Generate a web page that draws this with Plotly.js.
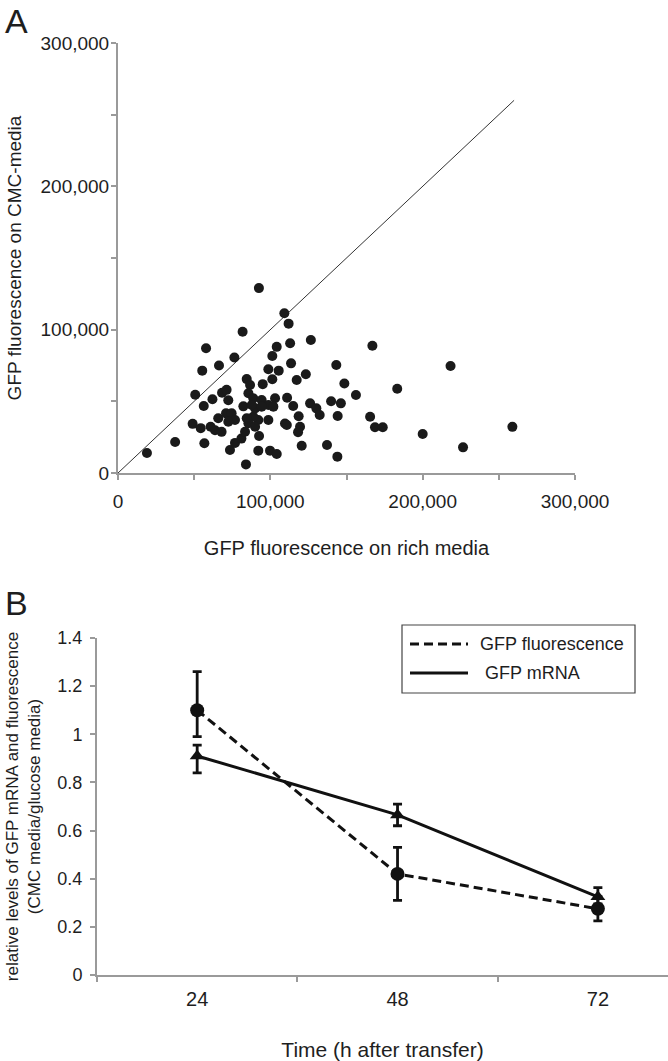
<!DOCTYPE html>
<html>
<head>
<meta charset="utf-8">
<script src="https://cdn.plot.ly/plotly-3.0.1.min.js"></script>
<style>
html,body{margin:0;padding:0;background:#fff;}
#chart{width:668px;height:1061px;}
</style>
</head>
<body>
<div id="chart"></div>
<script>
// ---------- Panel A data (GFP fluorescence) ----------
const richMedia = [19000,37500,56700,49000,54300,60800,63700,68000,65800,50700,56300,62000,68300,71300,72400,55300,66300,57800,76400,81800,70900,74600,76800,72400,73500,76800,81000,82300,84500,84000,92500,109200,112000,126600,113000,104200,101300,113600,143300,98700,105500,101300,86700,95000,117300,123300,148600,156200,85600,88800,94300,103100,111000,98700,115000,126100,130200,132400,139900,146300,144200,118600,109600,119500,118200,98700,92100,88800,85600,92600,83400,92100,99800,104200,120600,137200,144000,167000,218300,183300,165500,168700,173800,200000,226500,258900,110800,90000,94300,84500,90000,102000,87800];
const cmcMedia  = [14000,21600,20700,34300,31300,32300,29800,28700,38200,54600,46700,51400,56000,58000,50800,71400,75000,87000,80600,98600,41600,41600,37000,35800,16000,21000,24000,46500,65500,6000,129000,111400,104200,92800,90500,88000,81600,76500,75400,72400,71400,65400,61400,62000,64900,68900,62400,54400,55600,52100,50900,52100,52500,47500,46700,48600,45100,40500,50000,48600,39800,39600,34500,32300,28500,37000,37000,39300,34700,25800,28800,15600,15600,13300,19000,19500,11400,88800,74700,58800,39300,31900,31900,27200,17900,32200,33500,45100,46300,38200,32300,46300,47500];
const identityX = [0, 260000];
const identityY = [0, 260000];
const aTickVals = [0,50000,100000,150000,200000,250000,300000];
const aTickText = ['0','','100,000','','200,000','','300,000'];

// ---------- Panel B data ----------
const timeCats = ['24','48','72'];
const fluorMean = [1.10, 0.42, 0.275];
const fluorErrPlus = [0.16, 0.11, 0.05];
const fluorErrMinus = [0.11, 0.11, 0.05];
const mrnaMean = [0.91, 0.665, 0.325];
const mrnaErrPlus = [0.045, 0.045, 0.038];
const mrnaErrMinus = [0.07, 0.045, 0.03];
const bTickVals = [0,0.2,0.4,0.6,0.8,1,1.2,1.4];
const bTickText = ['0','0.2','0.4','0.6','0.8','1','1.2','1.4'];
const legendNames = ['GFP fluorescence', ' GFP mRNA'];

const W = 668, H = 1061;
const px = v => v / W;
const py = v => 1 - v / H;
const FONT = 'Liberation Sans, Arial, Helvetica, sans-serif';
const AX = '#9a9a9a';
const TXT = '#1e1e1e';
const DASH = '9px,5px';

const traces = [
  {x: identityX, y: identityY, xaxis:'x', yaxis:'y', mode:'lines',
   line:{color:'#333', width:1}, showlegend:false, hoverinfo:'skip'},
  {x: richMedia, y: cmcMedia, xaxis:'x', yaxis:'y', mode:'markers', type:'scatter',
   marker:{color:'#1a1a1a', size:10}, showlegend:false},
  {x: timeCats, y: fluorMean, xaxis:'x2', yaxis:'y2', mode:'lines+markers', name:legendNames[0],
   line:{color:'#111', width:3, dash:DASH},
   marker:{symbol:'circle', size:14, color:'#111'},
   error_y:{type:'data', symmetric:false, array:fluorErrPlus, arrayminus:fluorErrMinus,
            color:'#111', thickness:2.8, width:4.5},
   showlegend:false},
  {x: timeCats, y: mrnaMean, xaxis:'x2', yaxis:'y2', mode:'lines+markers', name:legendNames[1],
   line:{color:'#111', width:3},
   marker:{symbol:'triangle-up', size:13, color:'#111'},
   error_y:{type:'data', symmetric:false, array:mrnaErrPlus, arrayminus:mrnaErrMinus,
            color:'#111', thickness:2.8, width:4.5},
   showlegend:false}
];

const baseAxis = {
  showgrid:false, zeroline:false, showline:true, linecolor:AX, linewidth:2,
  ticks:'outside', tickcolor:AX, tickwidth:2, ticklen:5,
  tickfont:{family:FONT, size:19, color:TXT}
};

const layout = {
  width: W, height: H,
  margin:{l:0,r:0,t:0,b:0},
  paper_bgcolor:'#fff', plot_bgcolor:'#fff',
  font:{family:FONT, color:TXT},
  showlegend:false,
  xaxis: Object.assign({}, baseAxis, {
    domain:[px(118), px(575)], anchor:'y',
    range:[0,300000], tickmode:'array', tickvals:aTickVals, ticktext:aTickText,
    ticklabelstandoff:5,
    title:{text:'GFP fluorescence on rich media', font:{family:FONT,size:20,color:TXT}, standoff:30}
  }),
  yaxis: Object.assign({}, baseAxis, {
    domain:[py(473), py(43)], anchor:'x',
    range:[0,300000], tickmode:'array', tickvals:aTickVals, ticktext:aTickText,
    ticklabelstandoff:-2,
    title:{text:'GFP fluorescence on CMC-media', font:{family:FONT,size:19,color:TXT}, standoff:14}
  }),
  xaxis2: Object.assign({}, baseAxis, {
    domain:[px(97), 1], anchor:'y2',
    type:'category', tickson:'boundaries', range:[-0.5, 2.35],
    tickfont:{family:FONT, size:20, color:TXT},
    ticklabelstandoff:5,
    title:{text:'Time (h after transfer)', font:{family:FONT,size:21,color:TXT}, standoff:36}
  }),
  yaxis2: Object.assign({}, baseAxis, {
    domain:[py(975), py(638)], anchor:'x2',
    range:[0,1.4], tickmode:'array', tickvals:bTickVals, ticktext:bTickText,
    tickfont:{family:FONT, size:18, color:TXT},
    ticklabelstandoff:4,
    title:{text:'relative levels of GFP mRNA and fluorescence<br>(CMC media/glucose media)',
           font:{family:FONT,size:17,color:TXT}, standoff:12}
  }),
  shapes:[
    {type:'rect', xref:'paper', yref:'paper', x0:px(402), x1:px(635), y0:py(693), y1:py(625),
     line:{color:'#444', width:1.2}, fillcolor:'rgba(255,255,255,0)'},
    {type:'line', xref:'paper', yref:'paper', x0:px(410), x1:px(468), y0:py(644), y1:py(644),
     line:{color:'#111', width:3, dash:DASH}},
    {type:'line', xref:'paper', yref:'paper', x0:px(410), x1:px(468), y0:py(673), y1:py(673),
     line:{color:'#111', width:3}}
  ],
  annotations:[
    {text:'A', xref:'paper', yref:'paper', x:px(3), y:py(0), xanchor:'left', yanchor:'top',
     showarrow:false, font:{family:FONT, size:34, color:TXT}},
    {text:'B', xref:'paper', yref:'paper', x:px(3), y:py(582), xanchor:'left', yanchor:'top',
     showarrow:false, font:{family:FONT, size:34, color:TXT}},
    {text:legendNames[0], xref:'paper', yref:'paper', x:px(478), y:py(644), xanchor:'left', yanchor:'middle',
     showarrow:false, font:{family:FONT, size:18, color:TXT}},
    {text:legendNames[1], xref:'paper', yref:'paper', x:px(478), y:py(673), xanchor:'left', yanchor:'middle',
     showarrow:false, font:{family:FONT, size:18, color:TXT}}
  ]
};

Plotly.newPlot('chart', traces, layout, {displayModeBar:false, staticPlot:true});
</script>
</body>
</html>
